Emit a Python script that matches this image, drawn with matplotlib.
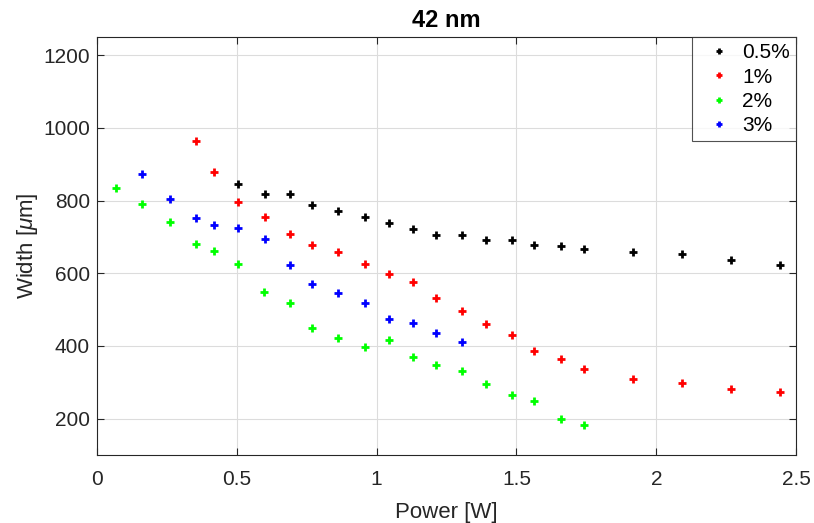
import numpy as np
import matplotlib
matplotlib.use("Agg")
import matplotlib.pyplot as plt

plt.rcParams['font.family'] = ['Liberation Sans', 'DejaVu Sans']
plt.rcParams['mathtext.fontset'] = 'custom'
plt.rcParams['mathtext.it'] = 'Liberation Sans:italic'

# series data
x_black = [0.505, 0.601, 0.690, 0.770, 0.861, 0.957, 1.043, 1.131, 1.212, 1.305,
           1.390, 1.483, 1.564, 1.660, 1.741, 1.918, 2.093, 2.268, 2.443]
y_black = [846, 819, 819, 787, 772, 754, 739, 721, 705, 705,
           693, 691, 679, 675, 668, 659, 654, 638, 622]

x_red = [0.353, 0.418, 0.505, 0.601, 0.690, 0.770, 0.861, 0.957, 1.043, 1.131,
         1.212, 1.305, 1.390, 1.483, 1.564, 1.660, 1.741, 1.918, 2.093, 2.268, 2.443]
y_red = [964, 880, 796, 754, 708, 679, 659, 626, 597, 575,
         533, 497, 460, 430, 385, 364, 336, 308, 298, 282, 274]

x_green = [0.067, 0.162, 0.260, 0.353, 0.418, 0.505, 0.598, 0.690, 0.770, 0.861,
           0.957, 1.043, 1.131, 1.212, 1.305, 1.390, 1.483, 1.564, 1.660, 1.741]
y_green = [836, 790, 742, 682, 662, 626, 548, 518, 449, 423,
           397, 416, 369, 349, 331, 296, 265, 249, 200, 182]

x_blue = [0.162, 0.260, 0.353, 0.418, 0.505, 0.601, 0.690, 0.770, 0.861, 0.957,
          1.043, 1.131, 1.212, 1.305]
y_blue = [872, 805, 752, 734, 726, 695, 623, 570, 547, 518,
          474, 462, 437, 410]

labels = ["0.5%", "1%", "2%", "3%"]
colors = ["black", "red", "#00ff00", "blue"]

fig = plt.figure(figsize=(8.14, 5.23), dpi=100)
ax = fig.add_axes([0.1192, 0.130, 0.8588, 0.799])

series = [(x_black, y_black), (x_red, y_red), (x_green, y_green), (x_blue, y_blue)]
for (xs, ys), lab, c in zip(series, labels, colors):
    ax.plot(xs, ys, linestyle='none', marker='+', markersize=6, mew=2,
            color=c, label=lab)

ax.set_xlim(0, 2.5)
ax.set_ylim(100, 1250)
ax.set_xticks([0, 0.5, 1, 1.5, 2, 2.5])
ax.set_xticklabels(["0", "0.5", "1", "1.5", "2", "2.5"])
ax.set_yticks([200, 400, 600, 800, 1000, 1200])

ax.grid(True, color='#dcdcdc', linewidth=0.8)
ax.set_axisbelow(True)
ax.tick_params(direction='in', top=True, right=True, length=5, width=0.8,
               labelsize=15, colors='#262626')
ax.tick_params(axis='x', pad=11)
ax.tick_params(axis='y', pad=5)
for sp in ax.spines.values():
    sp.set_color('#262626')
    sp.set_linewidth(0.8)

ax.set_xlabel('Power [W]', fontsize=16, color='#262626', labelpad=9)
ax.set_ylabel('Width [$\\mu$m]', fontsize=16, color='#262626', labelpad=2)
ax.set_title('42 nm', fontsize=17, fontweight='bold', pad=7)

leg = ax.legend(loc='upper right', fontsize=15, frameon=True, fancybox=False,
                edgecolor='#262626', borderaxespad=0, handlelength=2.0,
                handletextpad=0.1, labelspacing=0.25, borderpad=0.3,
                markerscale=0.7)
leg.get_frame().set_linewidth(0.8)

fig.savefig('out.png', dpi=100)
